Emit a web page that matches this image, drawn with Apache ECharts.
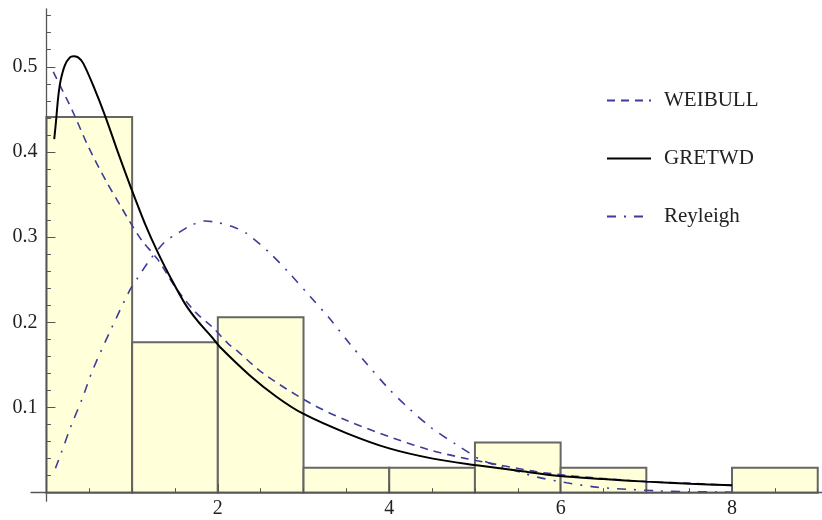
<!DOCTYPE html>
<html>
<head>
<meta charset="utf-8">
<script src="https://cdn.jsdelivr.net/npm/echarts@6/dist/echarts.min.js"></script>
<style>
html,body{margin:0;padding:0;background:#fff;}
#chart{width:822px;height:520px;}
</style>
</head>
<body>
<div id="chart"></div>
<script>
// Histogram bins (start, end) and relative frequencies
const binStarts = [0, 1, 2, 3, 4, 5, 6, 7, 8];
const binEnds   = [1, 2, 3, 4, 5, 6, 7, 8, 9];
const binHeights = [0.441, 0.1765, 0.206, 0.0294, 0.0294, 0.0588, 0.0294, 0, 0.0294];

// Fitted densities: [x, y]
const weibull = [[0.08,0.494],[0.30,0.449],[0.49,0.406],[0.69,0.367],[0.88,0.334],[0.974,0.318],[1.11,0.2966],[1.305,0.273],[1.50,0.2418],[1.733,0.2125],[1.93,0.195],[2.12,0.175],[2.22,0.167],[2.53,0.140],[3.08,0.105],[3.50,0.085],[4.05,0.064],[4.48,0.050],[4.90,0.040],[5.29,0.0325],[5.72,0.0246],[6.15,0.0196],[6.58,0.016],[7.00,0.013],[7.55,0.0108],[8.00,0.0085]];
const gretwd = [[0.091,0.415],[0.11,0.434],[0.138,0.465],[0.166,0.484],[0.216,0.502],[0.274,0.511],[0.313,0.5125],[0.37,0.511],[0.43,0.504],[0.55,0.477],[0.69,0.441],[0.84,0.398],[0.99,0.357],[1.149,0.316],[1.305,0.281],[1.461,0.250],[1.616,0.222],[1.771,0.2007],[1.928,0.183],[2.04,0.1695],[2.37,0.138],[2.68,0.113],[2.99,0.093],[3.50,0.070],[4.00,0.052],[4.51,0.040],[5.00,0.0325],[5.49,0.026],[5.99,0.0196],[6.50,0.016],[7.00,0.013],[7.51,0.0106],[8.00,0.0087]];
const reyleigh = [[0.105,0.0286],[0.17,0.046],[0.29,0.079],[0.42,0.111],[0.54,0.144],[0.75,0.191],[0.974,0.238],[1.07,0.253],[1.19,0.271],[1.383,0.2946],[1.54,0.305],[1.69,0.314],[1.85,0.319],[2.00,0.317],[2.17,0.3125],[2.34,0.304],[2.61,0.281],[2.85,0.256],[3.08,0.230],[3.30,0.205],[3.53,0.176],[3.74,0.151],[3.99,0.1225],[4.23,0.099],[4.50,0.0756],[4.79,0.056],[4.93,0.047],[5.08,0.038],[5.57,0.0228],[5.74,0.018],[6.07,0.0117],[6.42,0.0065],[6.78,0.004],[7.13,0.0022],[7.48,0.0012],[7.83,0.0008],[8.00,0.0006]];

const seriesNames = ['WEIBULL', 'GRETWD', 'Reyleigh'];

// Tick settings
const xTickInterval = 2;      // labels 2, 4, 6, 8
const xMinorSplit = 4;        // minor ticks every 0.5
const yTickInterval = 0.1;    // labels 0.1 ... 0.5
const yMinorSplit = 5;        // minor ticks every 0.02

const FONT = 'Liberation Serif';
const AXIS_COLOR = '#555';
const BLUE = '#3d3d99';

const histData = binStarts.map((s, i) => [s, binEnds[i], binHeights[i]]);

const chart = echarts.init(document.getElementById('chart'), null, {renderer: 'canvas'});

const option = {
  animation: false,
  backgroundColor: '#fff',
  grid: [
    // axis lines grid (x -0.18..9.05, y -0.01..0.568)
    {left: 31, top: 8.8, width: 791, height: 492.4, containLabel: false, outerBoundsMode: 'none'},
    // data + ticks grid (x 0..10, y 0..0.6), same scale
    {left: 46.43, top: -18.4, width: 857, height: 511.1, containLabel: false, outerBoundsMode: 'none'}
  ],
  xAxis: [
    {
      gridIndex: 0, type: 'value', min: -0.18, max: 9.05, z: 10,
      splitLine: {show: false},
      axisLine: {show: true, onZero: true, lineStyle: {color: AXIS_COLOR, width: 1.3}},
      axisTick: {show: false}, axisLabel: {show: false}
    },
    {
      gridIndex: 1, type: 'value', min: 0, max: 10, interval: xTickInterval, z: 10,
      splitLine: {show: false},
      axisLine: {show: false},
      axisTick: {show: true, inside: true, length: 9, lineStyle: {color: AXIS_COLOR, width: 1}},
      minorTick: {show: true, splitNumber: xMinorSplit, length: 4.5, lineStyle: {color: AXIS_COLOR, width: 1}},
      axisLabel: {show: true, showMinLabel: false, showMaxLabel: false, margin: 6, fontFamily: FONT, fontSize: 20, color: '#222'}
    }
  ],
  yAxis: [
    {
      gridIndex: 0, type: 'value', min: -0.01, max: 0.568, z: 10,
      splitLine: {show: false},
      axisLine: {show: true, onZero: true, lineStyle: {color: AXIS_COLOR, width: 1.3}},
      axisTick: {show: false}, axisLabel: {show: false}
    },
    {
      gridIndex: 1, type: 'value', min: 0, max: 0.6, interval: yTickInterval, z: 10,
      splitLine: {show: false},
      axisLine: {show: false},
      axisTick: {show: true, inside: true, length: 9, lineStyle: {color: AXIS_COLOR, width: 1}},
      minorTick: {show: true, splitNumber: yMinorSplit, length: 4.5, lineStyle: {color: AXIS_COLOR, width: 1}},
      axisLabel: {show: true, showMinLabel: false, showMaxLabel: false, margin: 9, fontFamily: FONT, fontSize: 20, color: '#222', formatter: v => v.toFixed(1)}
    }
  ],
  legend: {
    data: seriesNames,
    orient: 'vertical', left: 606, top: 90, padding: 0,
    itemWidth: 44, itemHeight: 14, itemGap: 37,
    itemStyle: {opacity: 0},
    textStyle: {fontFamily: FONT, fontSize: 21, color: '#222', padding: [0, 0, 0, 8]}
  },
  series: [
    {
      type: 'custom', name: 'hist', xAxisIndex: 1, yAxisIndex: 1, z: 2,
      data: histData,
      encode: {x: [0, 1], y: 2},
      renderItem: function (params, api) {
        const p0 = api.coord([api.value(0), 0]);
        const p1 = api.coord([api.value(1), api.value(2)]);
        return {
          type: 'rect',
          shape: {x: p0[0], y: p1[1], width: p1[0] - p0[0], height: p0[1] - p1[1]},
          style: {fill: '#FFFFD9', stroke: '#666', lineWidth: 2}
        };
      }
    },
    {
      type: 'line', name: seriesNames[0], data: weibull, xAxisIndex: 1, yAxisIndex: 1, z: 4,
      smooth: 0.3, symbol: 'none',
      lineStyle: {color: BLUE, width: 1.6, type: [8, 6]},
      itemStyle: {color: BLUE}
    },
    {
      type: 'line', name: seriesNames[1], data: gretwd, xAxisIndex: 1, yAxisIndex: 1, z: 5,
      smooth: 0.3, symbol: 'none',
      lineStyle: {color: '#000', width: 2},
      itemStyle: {color: '#000'}
    },
    {
      type: 'line', name: seriesNames[2], data: reyleigh, xAxisIndex: 1, yAxisIndex: 1, z: 4,
      smooth: 0.3, symbol: 'none',
      lineStyle: {color: BLUE, width: 1.6, type: [9, 8, 2, 8]},
      itemStyle: {color: BLUE}
    }
  ]
};
chart.setOption(option);
</script>
</body>
</html>
